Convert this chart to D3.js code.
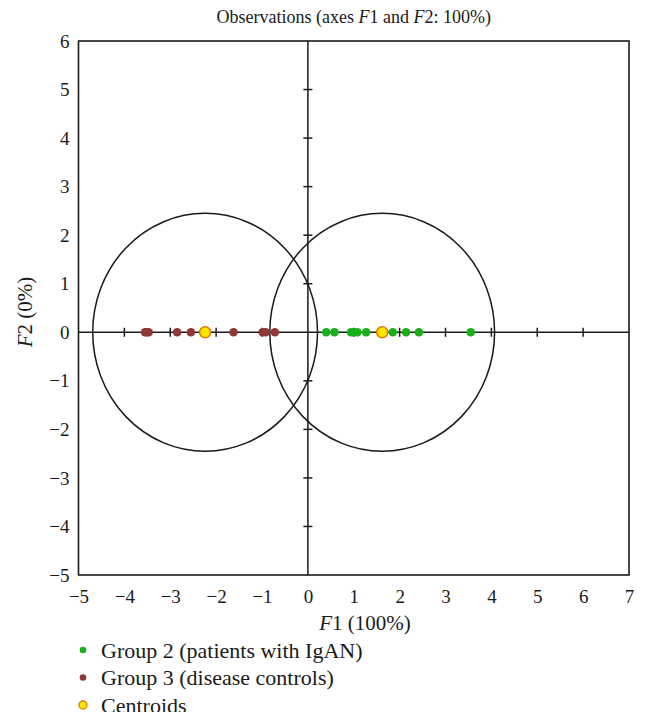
<!DOCTYPE html>
<html><head><meta charset="utf-8">
<script src="https://cdn.jsdelivr.net/npm/d3@7"></script>
<style>body{margin:0;background:#fff}svg{display:block}text{font-family:"Liberation Serif","DejaVu Serif",serif;fill:#1a1a1a}</style>
</head><body>
<script>
const group2 = [0.40, 0.58, 0.94, 1.01, 1.08, 1.27, 1.85, 2.14, 2.42, 3.55];
const group3 = [-3.55, -3.51, -3.47, -2.85, -2.55, -1.62, -0.985, -0.92, -0.72];
const centroids = [-2.24, 1.62];
const circleRadius = 2.45;
const xTicks = [-5,-4,-3,-2,-1,0,1,2,3,4,5,6,7];
const yTicks = [-5,-4,-3,-2,-1,0,1,2,3,4,5,6];
const legendLabels = ["Group 2 (patients with IgAN)", "Group 3 (disease controls)", "Centroids"];

const W = 647, H = 725;
const L = 78.5, R = 629, T = 41, B = 575;
const svg = d3.select("body").append("svg").attr("width", W).attr("height", H);
const x = d3.scaleLinear().domain([-5, 7]).range([L, R]);
const y = d3.scaleLinear().domain([-5, 6]).range([B, T]);
const stroke = "#1a1a1a";
const green = "#1aae1a", red = "#8e3936";

// title
svg.append("text").attr("x", (L + R) / 2).attr("y", 23).attr("text-anchor", "middle")
  .style("font-size", "18px")
  .html('Observations (axes <tspan font-style="italic">F</tspan>1 and <tspan font-style="italic">F</tspan>2: 100%)');

// frame
svg.append("rect").attr("x", L).attr("y", T).attr("width", R - L).attr("height", B - T)
  .attr("fill", "none").attr("stroke", stroke).attr("stroke-width", 1.6);

// axis lines through origin
svg.append("line").attr("x1", x(0)).attr("x2", x(0)).attr("y1", T).attr("y2", B).attr("stroke", stroke).attr("stroke-width", 1.5);
svg.append("line").attr("x1", L).attr("x2", R).attr("y1", y(0)).attr("y2", y(0)).attr("stroke", stroke).attr("stroke-width", 1.5);

// ticks on inner axes
svg.append("g").selectAll("line").data(xTicks.filter(d => d > -5 && d < 7 && d !== 0)).join("line")
  .attr("x1", d => x(d)).attr("x2", d => x(d)).attr("y1", y(0) - 4.5).attr("y2", y(0) + 4.5)
  .attr("stroke", stroke).attr("stroke-width", 1.5);
svg.append("g").selectAll("line").data(yTicks.filter(d => d > -5 && d < 6 && d !== 0)).join("line")
  .attr("y1", d => y(d)).attr("y2", d => y(d)).attr("x1", x(0) - 4.5).attr("x2", x(0) + 4.5)
  .attr("stroke", stroke).attr("stroke-width", 1.5);

// tick labels via d3 axes
const xAxis = svg.append("g").attr("transform", `translate(0,${B})`)
  .call(d3.axisBottom(x).tickValues(xTicks).tickSize(0).tickPadding(15));
xAxis.select(".domain").remove();
xAxis.selectAll("text").style("font-size", "19px").attr("fill", "#1a1a1a");
const yAxis = svg.append("g").attr("transform", `translate(${L},0)`)
  .call(d3.axisLeft(y).tickValues(yTicks).tickSize(0).tickPadding(9));
yAxis.select(".domain").remove();
yAxis.selectAll("text").style("font-size", "19px").attr("fill", "#1a1a1a");

// axis titles
svg.append("text").attr("x", 365).attr("y", 630).attr("text-anchor", "middle").style("font-size", "21px")
  .html('<tspan font-style="italic">F</tspan>1 (100%)');
svg.append("text").attr("transform", `translate(32,${(T + B) / 2 + 4}) rotate(-90)`).attr("text-anchor", "middle").style("font-size", "21px")
  .html('<tspan font-style="italic">F</tspan>2 (0%)');

// confidence circles around centroids
svg.append("g").selectAll("ellipse").data(centroids).join("ellipse")
  .attr("cx", d => x(d)).attr("cy", y(0))
  .attr("rx", d => x(d + circleRadius) - x(d)).attr("ry", y(0) - y(circleRadius))
  .attr("fill", "none").attr("stroke", stroke).attr("stroke-width", 1.5);

// points
svg.append("g").selectAll("circle").data(group3).join("circle")
  .attr("cx", d => x(d)).attr("cy", y(0)).attr("r", 4.3).attr("fill", red);
svg.append("g").selectAll("circle").data(group2).join("circle")
  .attr("cx", d => x(d)).attr("cy", y(0)).attr("r", 4.3).attr("fill", green);
svg.append("g").selectAll("circle").data(centroids).join("circle")
  .attr("cx", d => x(d)).attr("cy", y(0)).attr("r", 5.5).attr("fill", "#ffe600").attr("stroke", "#e07a00").attr("stroke-width", 1.5);

// legend
const lg = svg.append("g");
const rows = lg.selectAll("g").data(legendLabels).join("g")
  .attr("transform", (d, i) => `translate(0,${650 + i * 27.5})`);
rows.append("circle").attr("cx", 83).attr("cy", 0)
  .attr("r", (d, i) => i === 2 ? 4 : 3.3)
  .attr("fill", (d, i) => i === 0 ? green : i === 1 ? red : "#ffe600")
  .attr("stroke", (d, i) => i === 2 ? "#e07a00" : "none").attr("stroke-width", 1.3);
rows.append("text").attr("x", 101).attr("y", 7.5).style("font-size", "22px").text(d => d);

// bottom crop as in reference
svg.append("rect").attr("x", 0).attr("y", 712).attr("width", W).attr("height", H - 712).attr("fill", "#fff");
</script>
</body></html>
